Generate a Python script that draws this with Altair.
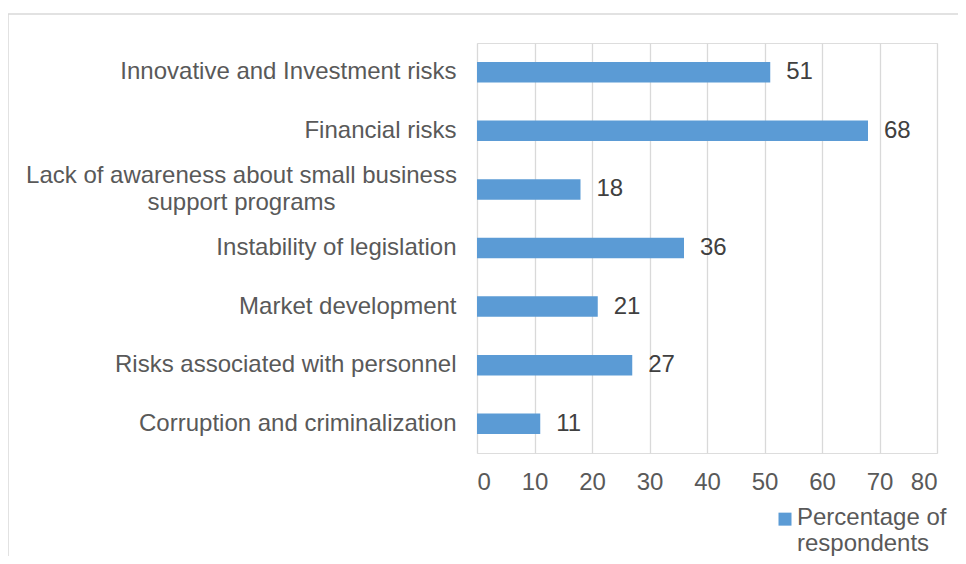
import altair as alt
import pandas as pd

categories = [
    "Innovative and Investment risks",
    "Financial risks",
    "Lack of awareness about small business support programs",
    "Instability of legislation",
    "Market development",
    "Risks associated with personnel",
    "Corruption and criminalization",
]
values = [51, 68, 18, 36, 21, 27, 11]
series_name = "Percentage of respondents"
x_ticks = [0, 10, 20, 30, 40, 50, 60, 70, 80]

df = pd.DataFrame({"category": categories, "value": values, "series": series_name})

FONT = "Liberation Sans"
LONG = "Lack of awareness about small business support programs"
wrap_expr = (
    "datum.label == '" + LONG + "' ? "
    "['Lack of awareness about small business', 'support programs'] : datum.label"
)
is_long = "datum.value == '" + LONG + "'"

base = alt.Chart(df)

border = alt.Chart(alt.Data(values=[{"a": 1}])).mark_rect(
    fill="transparent", stroke="#D9D9D9", strokeWidth=1.5
).encode(
    x=alt.value(-469), x2=alt.value(700), y=alt.value(-29), y2=alt.value(800)
)

bars = base.mark_bar(color="#5B9BD5").encode(
    x=alt.X(
        "value:Q",
        scale=alt.Scale(domain=[0, 80], nice=False),
        axis=alt.Axis(
            values=x_ticks,
            title=None,
            grid=True,
            gridColor="#D9D9D9",
            gridWidth=1.3,
            domain=False,
            ticks=False,
            tickSize=0,
            labelPadding=17,
            labelFont=FONT,
            labelFontSize=24,
            labelColor="#595959",
        ),
    ),
    y=alt.Y(
        "category:N",
        sort=categories,
        scale=alt.Scale(paddingInner=0.65, paddingOuter=0.325),
        axis=alt.Axis(
            title=None,
            domain=False,
            ticks=False,
            tickSize=0,
            labelPadding={"condition": {"test": is_long, "value": 236}, "value": 21},
            labelAlign={"condition": {"test": is_long, "value": "center"}, "value": "right"},
            labelOffset={"condition": {"test": is_long, "value": -13}, "value": 0},
            labelLimit=800,
            labelFont=FONT,
            labelFontSize=24,
            labelColor="#595959",
            labelLineHeight=27,
            labelExpr=wrap_expr,
        ),
    ),
    color=alt.Color(
        "series:N",
        scale=alt.Scale(range=["#5B9BD5"]),
        legend=alt.Legend(
            title=None,
            orient="none",
            legendX=296,
            legendY=470,
            padding=0,
            symbolType="M-1,-1.9H1V0.1H-1Z",
            symbolSize=169,
            symbolStrokeWidth=0,
            labelOffset=0,
            labelFont=FONT,
            labelFontSize=24,
            labelColor="#595959",
            labelLimit=600,
            labelBaseline="alphabetic",
            labelExpr="['Percentage of', 'respondents']",
        ),
    ),
)

labels = base.mark_text(
    align="left", baseline="middle", dx=16, font=FONT, fontSize=24, color="#404040"
).encode(
    x="value:Q",
    y=alt.Y("category:N", sort=categories),
    text="value:Q",
)

chart = (
    alt.layer(border, bars, labels)
    .properties(
        width=460,
        height=410,
        autosize=alt.AutoSizeParams(type="none"),
        padding={"left": 469, "top": 35, "right": 21, "bottom": 103},
    )
    .configure_view(strokeWidth=0, stroke="transparent")
    .configure(background="white")
)

chart.save("out.html", embed_options={"renderer": "svg", "actions": False})
